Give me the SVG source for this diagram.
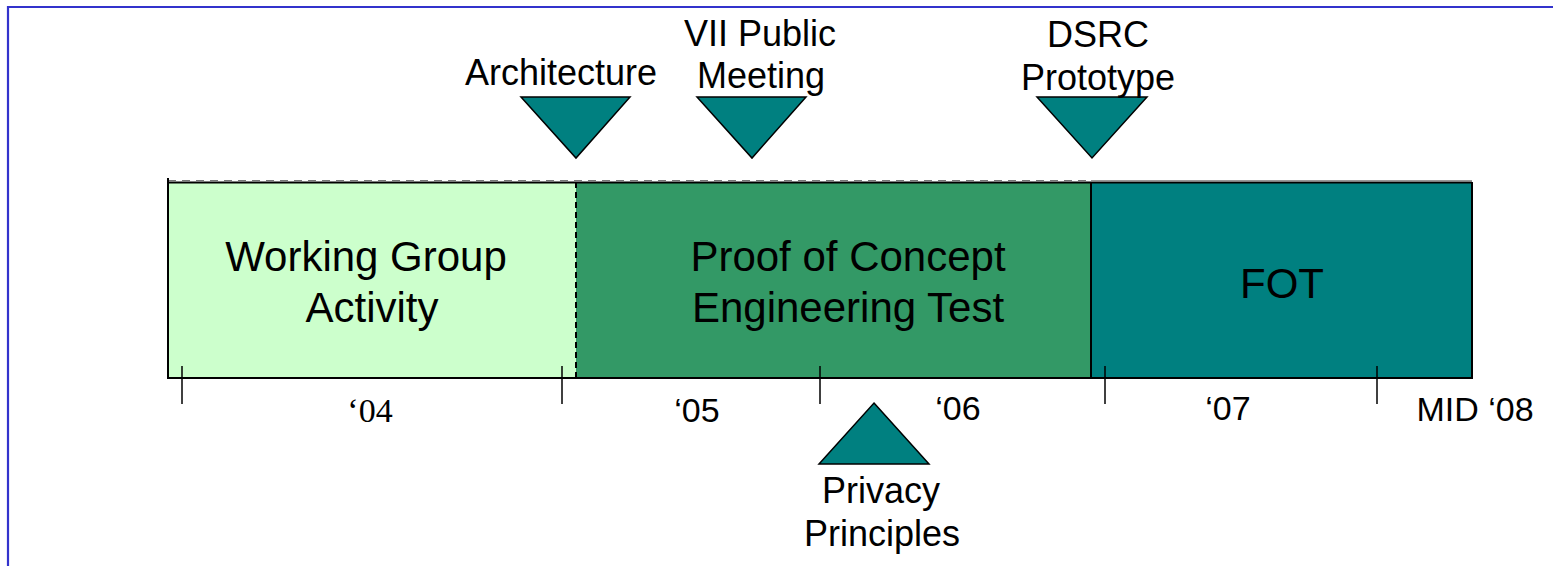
<svg xmlns="http://www.w3.org/2000/svg" width="1553" height="566" viewBox="0 0 1553 566">
<style>
.lbl{font-family:"Liberation Sans",Arial,sans-serif;fill:#000;text-anchor:middle}
.big{font-size:42px}
.mid{font-size:36px}
.yr{font-size:34px}
.serif{font-family:"Liberation Serif","Times New Roman",serif}
.tri{fill:#008080;stroke:#000;stroke-width:1.5}
.edge{stroke:#000;stroke-width:2;fill:none}
.tick{stroke:#000;stroke-width:1.5}
</style>
<rect width="1553" height="566" fill="#fff"/>
<g id="frame">
<path d="M8 566 V7 H1553" fill="none" stroke="#3333cc" stroke-width="2.2"/>
</g>
<g id="phase-working-group">
<rect x="168" y="182" width="408" height="196" fill="#ccffcc"/>
<text class="lbl big" x="366" y="271">Working Group</text>
<text class="lbl big" x="372" y="322">Activity</text>
</g>
<g id="phase-proof-of-concept">
<rect x="576" y="182" width="515" height="196" fill="#339966"/>
<text class="lbl big" x="848" y="271">Proof of Concept</text>
<text class="lbl big" x="848" y="322">Engineering Test</text>
</g>
<g id="phase-fot">
<rect x="1091" y="182" width="381" height="196" fill="#008080"/>
<text class="lbl big" x="1282" y="298">FOT</text>
</g>
<g id="box-edges">
<line x1="168" y1="180.5" x2="1150" y2="180.5" stroke="#777" stroke-width="1.2" stroke-dasharray="8,6"/>
<line x1="1091" y1="180.5" x2="1472" y2="180.5" stroke="#999" stroke-width="1"/>
<line class="edge" x1="168" y1="182.5" x2="1472" y2="182.5" stroke-width="1.5"/>
<line class="edge" x1="167" y1="378" x2="1473" y2="378"/>
<line class="edge" x1="168" y1="178" x2="168" y2="378" stroke-width="1.5"/>
<line class="edge" x1="1472" y1="182" x2="1472" y2="378"/>
<line class="edge" x1="1091" y1="182" x2="1091" y2="378" stroke-width="1.5"/>
<line class="edge" x1="576" y1="182" x2="576" y2="378" stroke-width="1.5" stroke-dasharray="6,4"/>
</g>
<g id="connectors">
<line class="tick" x1="182" y1="366" x2="182" y2="404"/>
<line class="tick" x1="562" y1="366" x2="562" y2="404"/>
<line class="tick" x1="820" y1="366" x2="820" y2="404"/>
<line class="tick" x1="1105" y1="366" x2="1105" y2="404"/>
<line class="tick" x1="1377" y1="366" x2="1377" y2="404"/>
</g>
<g id="year-labels">
<text class="lbl yr serif" x="370" y="422">‘04</text>
<text class="lbl yr" x="697" y="422">‘05</text>
<text class="lbl yr" x="958" y="420">‘06</text>
<text class="lbl yr" x="1228" y="420">‘07</text>
<text class="lbl yr" x="1475" y="421">MID ‘08</text>
</g>
<g id="milestone-architecture">
<polygon class="tri" points="521,97 630,97 576,158"/>
<text class="lbl mid" x="561" y="85">Architecture</text>
</g>
<g id="milestone-vii-public-meeting">
<polygon class="tri" points="697,97 806,97 752,158"/>
<text class="lbl mid" x="760" y="46">VII Public</text>
<text class="lbl mid" x="761" y="88">Meeting</text>
</g>
<g id="milestone-dsrc-prototype">
<polygon class="tri" points="1037,97 1147,97 1092,158"/>
<text class="lbl mid" x="1098" y="47">DSRC</text>
<text class="lbl mid" x="1098" y="90">Prototype</text>
</g>
<g id="milestone-privacy-principles">
<polygon class="tri" points="874,403 929,464 819,464"/>
<text class="lbl mid" x="881" y="503">Privacy</text>
<text class="lbl mid" x="882" y="546">Principles</text>
</g>
</svg>
